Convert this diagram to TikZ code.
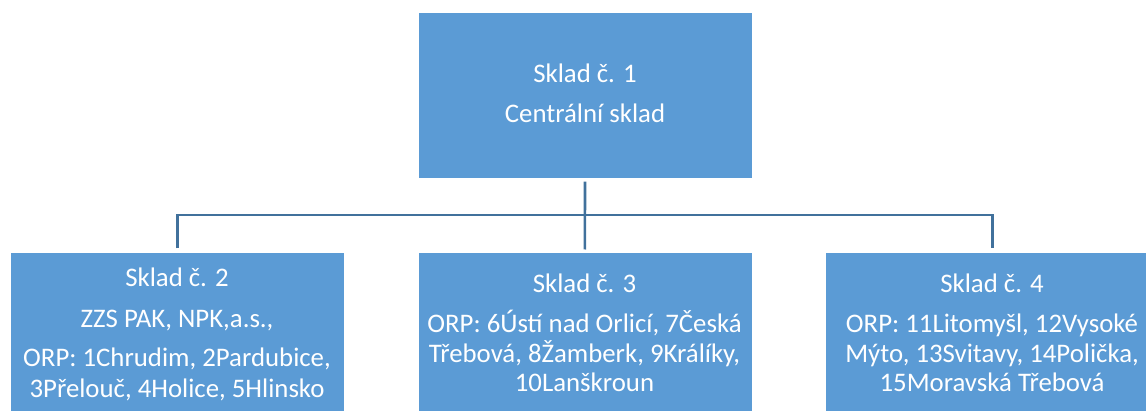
\documentclass[tikz,border=0pt]{standalone}
\usepackage{fontspec}
\setmainfont{Carlito}
\definecolor{boxblue}{HTML}{5B9BD5}
\definecolor{linkblue}{HTML}{41719C}
\tikzset{
  box/.style={rectangle, fill=boxblue, draw=white, line width=0.6pt, inner sep=0pt, anchor=north west},
  txt/.style={text=white, font=\fontsize{26.8}{31}\selectfont, anchor=base, inner sep=0pt},
  conn/.style={draw=linkblue, line width=2.6pt}
}
\begin{document}
\begin{tikzpicture}[x=1pt,y=-1pt]
\useasboundingbox (0,0) rectangle (1146,411);
% boxes
\node[box, minimum width=334.5pt, minimum height=166pt] (top) at (417.5,12.5) {};
\node[box, minimum width=334pt, minimum height=170pt] (left) at (10,252) {};
\node[box, minimum width=334pt, minimum height=170pt] (mid) at (417.5,252) {};
\node[box, minimum width=334pt, minimum height=170pt] (right) at (825,252) {};
% connectors
\coordinate (hub) at (585,215);
\draw[conn, shorten <=2.5pt, shorten >=2.5pt] (top.south) -- (mid.north);
\draw[conn, shorten <=3.5pt, shorten >=3.5pt] (left.north) |- (hub) -| (right.north);
% texts
\node[txt] (t1a) at (585,83) {Sklad č. 1};
\node[txt] (t1b) at (585,123) {Centrální sklad};
\node[txt] (t2a) at (177,287) {Sklad č. 2};
\node[txt] (t2b) at (177,328) {ZZS PAK, NPK,a.s.,};
\node[txt] (t2c) at (177,367) {ORP: 1Chrudim, 2Pardubice,};
\node[txt] (t2d) at (177,398) {3Přelouč, 4Holice, 5Hlinsko};
\node[txt] (t3a) at (584.5,293) {Sklad č. 3};
\node[txt] (t3b) at (584.5,333) {ORP: 6Ústí nad Orlicí, 7Česká};
\node[txt] (t3c) at (584.5,363) {Třebová, 8Žamberk, 9Králíky,};
\node[txt] (t3d) at (584.5,391.5) {10Lanškroun};
\node[txt] (t4a) at (992,293) {Sklad č. 4};
\node[txt] (t4b) at (992,333) {ORP: 11Litomyšl, 12Vysoké};
\node[txt] (t4c) at (992,363) {Mýto, 13Svitavy, 14Polička,};
\node[txt] (t4d) at (992,391.5) {15Moravská Třebová};
\end{tikzpicture}
\end{document}
